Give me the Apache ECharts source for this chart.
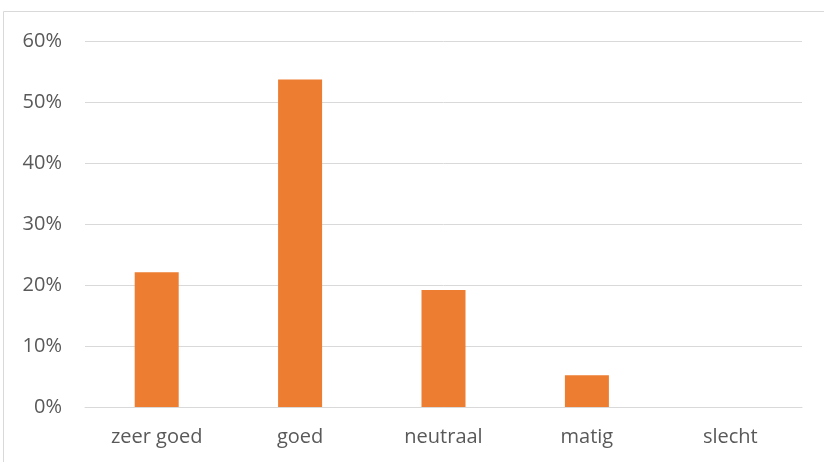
<!DOCTYPE html>
<html>
<head>
<meta charset="utf-8">
<script src="https://cdn.jsdelivr.net/npm/echarts@6/dist/echarts.min.js"></script>
<style>
  html, body { margin: 0; padding: 0; background: #fff; }
  #chart { width: 824px; height: 462px; }
</style>
</head>
<body>
<div id="chart"></div>
<script>
// categorieën en waarden (fractie)
const categories = ['zeer goed', 'goed', 'neutraal', 'matig', 'slecht'];
const values = [0.221, 0.537, 0.192, 0.052, 0];
const yTicks = [0, 0.1, 0.2, 0.3, 0.4, 0.5, 0.6];

const chart = echarts.init(document.getElementById('chart'));
chart.setOption({
  animation: false,
  textStyle: { fontFamily: 'Open Sans, Noto Sans, sans-serif' },
  graphic: [{
    type: 'rect',
    shape: { x: 3.5, y: 11.5, width: 830, height: 470 },
    style: { fill: 'none', stroke: '#D9D9D9', lineWidth: 1 }
  }],
  grid: { left: 85, right: 22, top: 41, bottom: 55, containLabel: false },
  xAxis: {
    type: 'category',
    data: categories,
    axisLine: { lineStyle: { color: '#D9D9D9', width: 1 } },
    axisTick: { show: false },
    axisLabel: { color: '#595959', fontSize: 20, margin: 20 }
  },
  yAxis: {
    type: 'value',
    min: yTicks[0],
    max: yTicks[yTicks.length - 1],
    interval: 0.1,
    axisLine: { show: false },
    axisTick: { show: false },
    splitLine: { lineStyle: { color: '#D9D9D9', width: 1 } },
    axisLabel: {
      color: '#595959', fontSize: 20, margin: 23,
      formatter: v => Math.round(v * 100) + '%'
    }
  },
  series: [{
    type: 'bar',
    data: values,
    barWidth: 44,
    itemStyle: { color: '#ED7D31' }
  }]
});
</script>
</body>
</html>
